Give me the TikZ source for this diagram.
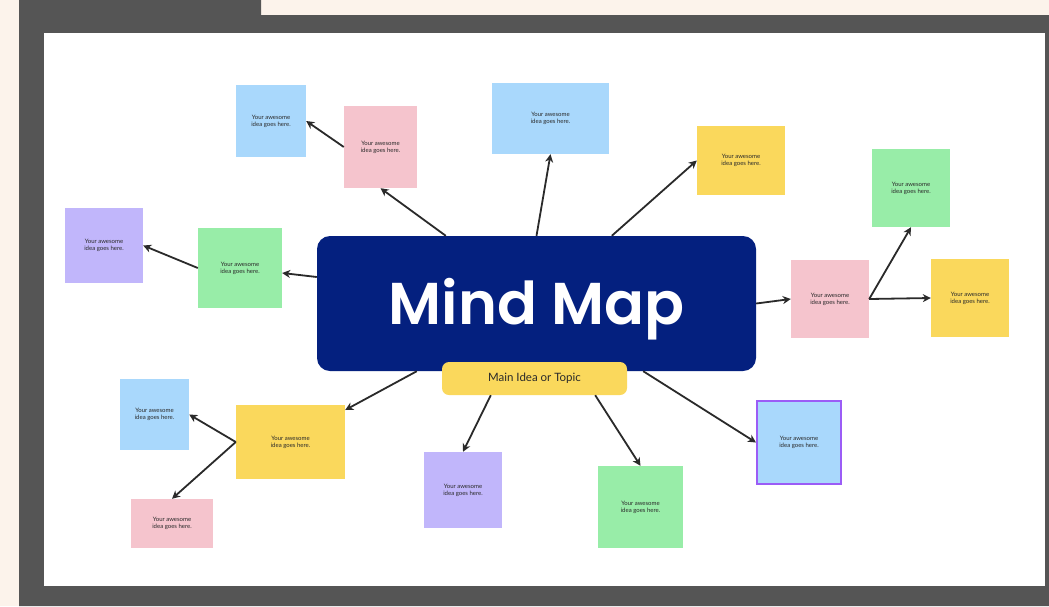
\documentclass[tikz,border=0pt]{standalone}
\usepackage{fontspec}
\setmainfont{Lato}
\newfontfamily\titlefont{Poppins}[BoldFont={* SemiBold}]
\usetikzlibrary{arrows.meta}
\definecolor{cream}{HTML}{FCF3EB}
\definecolor{frame}{HTML}{555555}
\definecolor{hubblue}{HTML}{04207F}
\definecolor{noteyellow}{HTML}{FAD85C}
\definecolor{noteblue}{HTML}{A9D8FC}
\definecolor{notepink}{HTML}{F5C4CD}
\definecolor{notegreen}{HTML}{98EDA8}
\definecolor{notepurple}{HTML}{C1B6FB}
\definecolor{edgepurple}{HTML}{9B5CF6}
\definecolor{inktext}{HTML}{2A2A2A}
\begin{document}
\begin{tikzpicture}[x=1pt,y=-1pt,
  note/.style={rectangle,inner sep=0pt,align=center,text=inktext,font=\fontsize{6}{7}\selectfont},
  hub/.style={rectangle,rounded corners=13,fill=hubblue,text=white,font=\titlefont\bfseries\fontsize{59}{59}\selectfont,
    minimum width=439,minimum height=135,text height=42pt,text depth=0pt},
  topic/.style={rectangle,rounded corners=7,fill=noteyellow,text=inktext,font=\fontsize{11.5}{12}\selectfont,
    minimum width=185,minimum height=33},
  every edge/.style={draw,line width=1.8,-{Stealth[length=8pt,width=8pt,inset=2.5pt]},color=inktext}]

  % frame
  \useasboundingbox (0,0) rectangle (1049,606);
  \fill[cream] (0,0) rectangle (1049,606);
  \fill[frame] (19,0) -- (261,0) -- (261,15) -- (1049,15) -- (1049,606) -- (19,606) -- cycle;
  \fill[white] (44,33) rectangle (1045,586);

  % hub
  \node[hub] (main) at (536.5,303.5) {Mind Map};
  \node[topic] (topic) at (534.5,378.5) {Main Idea or Topic};

  % sticky notes
  \node[note,fill=noteblue,minimum width=70,minimum height=72] (1) at (271,121) {Your awesome\\idea goes here.};
  \node[note,fill=notepink,minimum width=73,minimum height=82] (2) at (380.5,147) {Your awesome\\idea goes here.};
  \node[note,fill=noteblue,minimum width=117,minimum height=71] (3) at (550.5,118.5) {Your awesome\\idea goes here.};
  \node[note,fill=noteyellow,minimum width=88,minimum height=69] (4) at (741,160.5) {Your awesome\\idea goes here.};
  \node[note,fill=notegreen,minimum width=78,minimum height=78] (5) at (911,188) {Your awesome\\idea goes here.};
  \node[note,fill=notepurple,minimum width=78,minimum height=75] (6) at (104,245.5) {Your awesome\\idea goes here.};
  \node[note,fill=notegreen,minimum width=84,minimum height=80] (7) at (240,268) {Your awesome\\idea goes here.};
  \node[note,fill=notepink,minimum width=78,minimum height=78] (8) at (830,299) {Your awesome\\idea goes here.};
  \node[note,fill=noteyellow,minimum width=78,minimum height=78] (9) at (970,298) {Your awesome\\idea goes here.};
  \node[note,fill=noteblue,minimum width=69,minimum height=71] (10) at (154.5,414.5) {Your awesome\\idea goes here.};
  \node[note,fill=noteyellow,minimum width=109,minimum height=74] (11) at (290.5,442) {Your awesome\\idea goes here.};
  \node[note,fill=notepink,minimum width=82,minimum height=49] (12) at (172,523.5) {Your awesome\\idea goes here.};
  \node[note,fill=notepurple,minimum width=78,minimum height=76] (13) at (463,490) {Your awesome\\idea goes here.};
  \node[note,fill=notegreen,minimum width=85,minimum height=82] (14) at (640.5,507) {Your awesome\\idea goes here.};
  \node[note,fill=noteblue,draw=edgepurple,line width=2,minimum width=84,minimum height=83] (15) at (799,442.5) {Your awesome\\idea goes here.};

  \path
   ([shift={(129,0)}]main.north west) edge (2.south)
   (2.west) edge (1.east)
   (main.north) edge (3.south)
   ([shift={(295,0)}]main.north west) edge (4.west)
   ([shift={(0,-26.5)}]main.west) edge ([shift={(0,5)}]7.east)
   (7.west) edge (6.east)
   (main.east) edge (8.west)
   (8.east) edge (5.south)
   (8.east) edge (9.west)
   ([shift={(100,0)}]main.south west) edge ([shift={(0,-32)}]11.east)
   (11.west) edge (10.east)
   (11.west) edge (12.north)
   ([shift={(49,0)}]topic.south west) edge (13.north)
   ([shift={(-32,0)}]topic.south east) edge (14.north)
   ([shift={(-113,0)}]main.south east) edge (15.west);
\end{tikzpicture}
\end{document}
